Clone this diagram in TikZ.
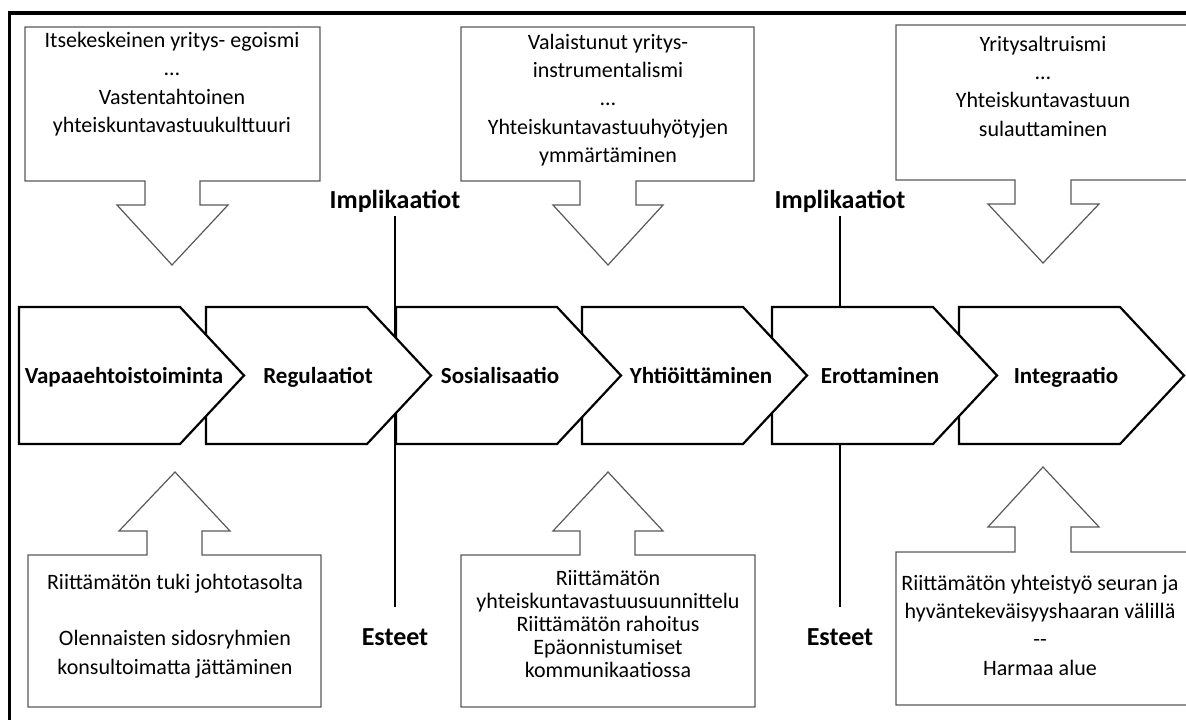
\documentclass[tikz,border=0pt]{standalone}
\usepackage{fontspec}
\setmainfont{Carlito}
\definecolor{calloutgray}{HTML}{595959}

\begin{document}
\begin{tikzpicture}[x=1pt,y=-1pt,inner sep=0pt,
	chevron/.style={draw=black,line width=2.2pt,fill=white},
	phase/.style={font=\fontsize{23}{28}\selectfont\bfseries,anchor=base},
	calloutbox/.style={draw=calloutgray,line width=1.2pt,fill=white},
	note/.style={font=\fontsize{22}{28.3}\selectfont,align=center},
	marker/.style={font=\fontsize{26}{30}\selectfont\bfseries,anchor=base},
	divider/.style={line width=2.4pt,shorten <=3.8pt,shorten >=21.3pt}]
	\useasboundingbox (0,0) rectangle (1186,720);
	\clip (0,0) rectangle (1186,720);
	% frame
	\draw[line width=3.5pt] (9.5,722) -- (9.5,13) -- (1190,13);
	% top callouts
	\draw[calloutbox] (25,27) -- (320,27) -- (320,181) -- (200,181) -- (200,205) -- (228,205) -- (172,265) -- (117,205) -- (145,205) -- (145,181) -- (25,181) -- cycle;
	\draw[calloutbox] (461,27) -- (754,27) -- (754,181) -- (636,181) -- (636,205) -- (663,205) -- (608,265) -- (553,205) -- (580,205) -- (580,181) -- (461,181) -- cycle;
	\draw[calloutbox] (896,25) -- (1200,25) -- (1200,180) -- (1071,180) -- (1071,204) -- (1099,204) -- (1043,263) -- (988,204) -- (1015,204) -- (1015,180) -- (896,180) -- cycle;
	\node[note] (egoismi) at (172,84) {Itsekeskeinen yritys- egoismi\\…\\Vastentahtoinen\\yhteiskuntavastuukulttuuri};
	\node[note] (instrument) at (608,100) {Valaistunut yritys-\\instrumentalismi\\…\\Yhteiskuntavastuuhyötyjen\\ymmärtäminen};
	\node[note] (altruismi) at (1043,86) {Yritysaltruismi\\…\\Yhteiskuntavastuun\\sulauttaminen};
	% bottom callouts
	\draw[calloutbox] (28,707) -- (321,707) -- (321,555) -- (202,555) -- (202,531) -- (230,531) -- (175,472) -- (119,531) -- (147,531) -- (147,555) -- (28,555) -- cycle;
	\draw[calloutbox] (461,707) -- (755,707) -- (755,555) -- (635,555) -- (635,531) -- (663,531) -- (608,472) -- (553,531) -- (580,531) -- (580,555) -- (461,555) -- cycle;
	\draw[calloutbox] (896,705) -- (1200,705) -- (1200,552) -- (1071,552) -- (1071,527) -- (1099,527) -- (1043,467) -- (988,527) -- (1015,527) -- (1015,552) -- (896,552) -- cycle;
	\node[note] (tuki) at (175,626) {Riittämätön tuki johtotasolta\\[28.3pt]Olennaisten sidosryhmien\\konsultoimatta jättäminen};
	\node[note,font=\fontsize{22}{23}\selectfont] (rahoitus) at (608,624) {Riittämätön\\yhteiskuntavastuusuunnittelu\\Riittämätön rahoitus\\Epäonnistumiset\\kommunikaatiossa};
	\node[note] (harmaa) at (1040,625) {Riittämätön yhteistyö seuran ja\\hyväntekeväisyyshaaran välillä\\-{}-\\Harmaa alue};
	% implications and obstacles
	\node[marker] (impl1) at (395,208) {Implikaatiot};
	\node[marker] (est1) at (395,645) {Esteet};
	\node[marker] (impl2) at (840,208) {Implikaatiot};
	\node[marker] (est2) at (840,645) {Esteet};
	\draw[divider] (impl1.south) -- (est1.north);
	\draw[divider] (impl2.south) -- (est2.north);
	% phases, drawn from right to left
	\draw[chevron] (959,307) -- (1120,307) -- (1184,375.5) -- (1120,444) -- (959,444) -- cycle;
	\draw[chevron] (772,307) -- (933,307) -- (997,375.5) -- (933,444) -- (772,444) -- cycle;
	\draw[chevron] (582,307) -- (743,307) -- (807,375.5) -- (743,444) -- (582,444) -- cycle;
	\draw[chevron] (396,307) -- (557,307) -- (621,375.5) -- (557,444) -- (396,444) -- cycle;
	\draw[chevron] (206,307) -- (367,307) -- (431,375.5) -- (367,444) -- (206,444) -- cycle;
	\draw[chevron] (19,307) -- (180,307) -- (244,375.5) -- (180,444) -- (19,444) -- cycle;
	\node[phase] (vapaa) at (124,383) {Vapaaehtoistoiminta};
	\node[phase] (regul) at (318,383) {Regulaatiot};
	\node[phase] (sosial) at (500,383) {Sosialisaatio};
	\node[phase] (yhtio) at (701,383) {Yhtiöittäminen};
	\node[phase] (erott) at (880,383) {Erottaminen};
	\node[phase] (integr) at (1066,383) {Integraatio};
\end{tikzpicture}
\end{document}
